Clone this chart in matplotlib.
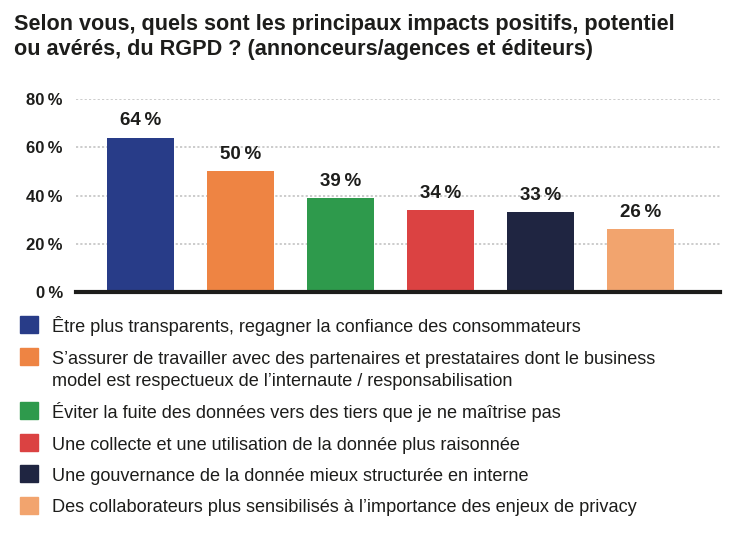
import matplotlib.pyplot as plt
from matplotlib.patches import Rectangle

title = "Selon vous, quels sont les principaux impacts positifs, potentiel\nou avérés, du RGPD ? (annonceurs/agences et éditeurs)"
categories = [
    "Être plus transparents, regagner la confiance des consommateurs",
    "S’assurer de travailler avec des partenaires et prestataires dont le business\nmodel est respectueux de l’internaute / responsabilisation",
    "Éviter la fuite des données vers des tiers que je ne maîtrise pas",
    "Une collecte et une utilisation de la donnée plus raisonnée",
    "Une gouvernance de la donnée mieux structurée en interne",
    "Des collaborateurs plus sensibilisés à l’importance des enjeux de privacy",
]
values = [64, 50, 39, 34, 33, 26]
colors = ["#283c88", "#ee8443", "#2e9a4c", "#db4242", "#1f2541", "#f2a46e"]
yticks = [0, 20, 40, 60, 80]

font = ["Liberation Sans", "DejaVu Sans"]
ink = "#1d1d1b"

W, H = 733, 533
fig = plt.figure(figsize=(W / 100, H / 100), dpi=100)

# titre, ligne par ligne (positions en pixels depuis le haut)
for k, line in enumerate(title.split("\n")):
    fig.text(14 / W, 1 - (30 + 25 * k) / H, line, family=font, fontweight="bold",
             fontsize=15.6, color=ink, va="baseline", ha="left")

# zone du graphique
ax = fig.add_axes([76 / W, 1 - 292 / H, (720 - 76) / W, (292 - 99) / H])
x = range(len(values))
ax.bar(x, values, width=0.67, color=colors, zorder=3)
for i, v in enumerate(values):
    ax.annotate(f"{v}\u2009%", (i, v), xytext=(0, 6), textcoords="offset points",
                ha="center", va="bottom", family=font, fontweight="bold",
                fontsize=13.5, color=ink, annotation_clip=False)

ax.set_xlim(-0.645, 5.795)
ax.set_ylim(0, 80)
ax.set_yticks(yticks)
ax.set_yticklabels([f"{t}\u2009%" for t in yticks], family=font,
                   fontweight="bold", fontsize=12, color=ink)
ax.set_xticks([])
ax.tick_params(axis="y", length=0, pad=9.4)
ax.grid(axis="y", linestyle=(0, (1.2, 1.2)), color="#c8c8c8", linewidth=1.3, zorder=0)
for s in ["top", "right", "left"]:
    ax.spines[s].set_visible(False)
ax.spines["bottom"].set_linewidth(3)
ax.spines["bottom"].set_color(ink)
ax.spines["bottom"].set_zorder(4)

# légende (carré + libellé, une ligne de texte à la fois)
base = 332
for lab, c in zip(categories, colors):
    fig.patches.append(Rectangle((20 / W, 1 - (base + 1) / H), 18 / W, 17 / H,
                                 transform=fig.transFigure, color=c))
    for k, line in enumerate(lab.split("\n")):
        fig.text(52 / W, 1 - (base + 23 * k) / H, line, family=font, fontsize=13.1,
                 color=ink, va="baseline", ha="left")
    base += 31.5 + 23 * lab.count("\n")

fig.savefig("out.png", dpi=100)
